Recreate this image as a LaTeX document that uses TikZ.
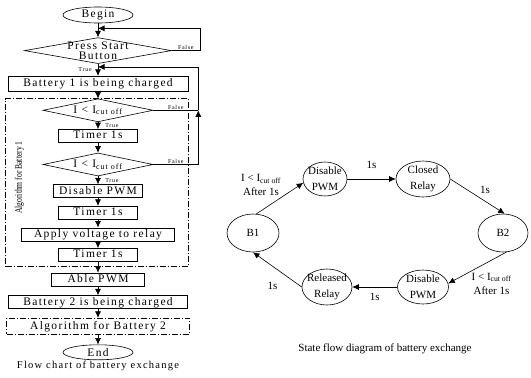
\documentclass[tikz,border=0pt]{standalone}
\usepackage{fontspec}
\setmainfont{Liberation Serif}
\newfontfamily\flowfont[LetterSpace=12]{Liberation Serif}
\newfontfamily\narrowfont[FakeStretch=0.76]{Liberation Serif}
\usetikzlibrary{arrows.meta,calc,fit,positioning,shapes.geometric}

\begin{document}
\begin{tikzpicture}[
    x=1pt, y=-1pt,
    node distance=10pt,
    flowbox/.style={draw, semithick, font=\flowfont\fontsize{11.5}{13}\selectfont, text height=8.5pt, text depth=2.5pt, minimum height=13pt, inner xsep=1pt, inner ysep=1pt},
    decision/.style={draw, semithick, diamond, minimum width=110pt, minimum height=23pt, inner sep=0pt},
    terminal/.style={draw, semithick, ellipse, minimum width=70pt, minimum height=16pt, inner sep=0pt, font=\flowfont\fontsize{11.5}{13}\selectfont},
    algbox/.style={draw, semithick, dash pattern=on 6pt off 2pt on 1pt off 2pt},
    flow/.style={-{Latex[length=6.5pt,width=6pt]}, semithick},
    tflabel/.style={font=\flowfont\fontsize{6}{7}\selectfont, inner sep=1pt},
    difftext/.style={font=\flowfont\fontsize{11.5}{10}\selectfont, align=center, inner sep=0pt},
    state/.style={draw, semithick, ellipse, inner sep=-2.5pt, minimum width=44pt, minimum height=34pt, align=center, font=\fontsize{11}{15.5}\selectfont},
    arrowlabel/.style={font=\fontsize{11}{14}\selectfont, align=center, inner sep=1pt}
  ]
    \useasboundingbox (0,0) rectangle (531,378);

    % flow chart
    \node[terminal] (begin) at (98,15) {Begin};
    \node[decision, minimum width=147pt, minimum height=26pt, below=14pt of begin,
          label={[difftext]center:Press Start\\Button}] (start) {};
    \node[flowbox, minimum width=180pt, minimum height=15pt, below=12pt of start] (bat1) {Battery 1 is being charged};
    \node[decision, below=7pt of bat1, label={[difftext]center:I < I\textsubscript{cut off}}] (d1) {};
    \node[flowbox, minimum width=79pt, below=7pt of d1] (timer1) {Timer 1s};
    \node[decision, below=10pt of timer1, label={[difftext]center:I < I\textsubscript{cut off}}] (d2) {};
    \node[flowbox, minimum width=89pt, below=8pt of d2] (dis) {Disable PWM};
    \node[flowbox, minimum width=79pt, below=8pt of dis] (timer2) {Timer 1s};
    \node[flowbox, minimum width=153pt, below=8pt of timer2] (apply) {Apply voltage to relay};
    \node[flowbox, minimum width=79pt, below=7pt of apply] (timer3) {Timer 1s};
    \node[flowbox, minimum width=93pt, below=11pt of timer3] (able) {Able PWM};
    \node[flowbox, minimum width=179pt, below=9pt of able] (bat2) {Battery 2 is being charged};
    \node[flowbox, algbox, minimum width=183pt, minimum height=16pt, below=9pt of bat2] (alg2) {Algorithm for Battery 2};
    \node[terminal, minimum height=15pt, below=10pt of alg2] (end) {End};

    \node[algbox, inner sep=0pt, fit={($(bat1.west |- d1.north)+(-2,0)$) ($(bat1.east |- timer3.south)+(0,5)$)}] (alg1) {};
    \node[rotate=90, font=\narrowfont\fontsize{10}{12}\selectfont, inner sep=0pt] (alglabel) at ($(alg1.west)+(14,-5)$) {Algorithm for Battery 1};

    \coordinate (rail) at ($(bat1.east)+(10,0)$);
    \coordinate (j1) at ($(begin.south)!0.36!(start.north)$);
    \coordinate (j2) at ($(start.south)!0.25!(bat1.north)$);

    \draw[flow] (begin) -- (start);
    \draw[flow] (start) -- node[tflabel, left=5pt]{True} (bat1);
    \draw[flow] (start.east) -- node[tflabel, above]{False} ++(28,0) |- (j1);
    \draw[flow] (bat1) -- (d1);
    \draw[flow] (d1) -- node[tflabel, right=6pt]{True} (timer1);
    \draw (d1.east) -- node[tflabel, above]{False} (d1.east -| rail);
    \draw[flow] (timer1) -- (d2);
    \draw[flow] (d2) -- node[tflabel, right=6pt]{True} (dis);
    \draw[flow] (d2.east) -- node[tflabel, above]{False} (d2.east -| rail) -- (d1.east -| rail);
    \draw[flow] (d1.east -| rail) |- (j2);
    \draw[flow] (dis) -- (timer2);
    \draw[flow] (timer2) -- (apply);
    \draw[flow] (apply) -- (timer3);
    \draw[flow] (timer3) -- (able);
    \draw[flow] (able) -- (bat2);
    \draw[flow] (bat2) -- (alg2);
    \draw[flow] (alg2) -- (end);

    \node[font=\flowfont\fontsize{10.5}{12}\selectfont] (flowcap) at (98,366) {Flow chart of battery exchange};

    % state flow
    \node[state, minimum width=52pt, minimum height=38pt] (b1) at (253,233) {B1};
    \node[state] (dtop) at (325,179) {Disable\\PWM};
    \node[state, minimum width=54pt, minimum height=36pt] (closed) at (423,179) {Closed\\Relay};
    \node[state, minimum width=50pt, minimum height=38pt] (b2) at (503,233) {B2};
    \node[state, minimum width=51pt] (dbot) at (423,287) {Disable\\PWM};
    \node[state, minimum width=50pt, minimum height=36pt] (released) at (327,287) {Released\\Relay};

    \draw[flow] (b1.80) -- node[arrowlabel, above left, pos=0.55]{I < I\textsubscript{cut off}\\After 1s} (dtop.190);
    \draw[flow] (dtop) -- node[arrowlabel, above=9pt]{1s} (closed);
    \draw[flow] (closed.east) -- node[arrowlabel, above right=2pt]{1s} (b2.85);
    \draw[flow] (b2.-80) -- node[arrowlabel, below right, pos=0.62]{I < I\textsubscript{cut off}\\After 1s} (dbot.8);
    \draw[flow] (dbot) -- node[arrowlabel, below=5pt]{1s} (released);
    \draw[flow] (released.west) -- node[arrowlabel, below=15pt, pos=0.6]{1s} (b1.south);

    \node[font=\fontsize{11}{13}\selectfont] (statecap) at (385,349) {State flow diagram of battery exchange};
  \end{tikzpicture}
\end{document}
